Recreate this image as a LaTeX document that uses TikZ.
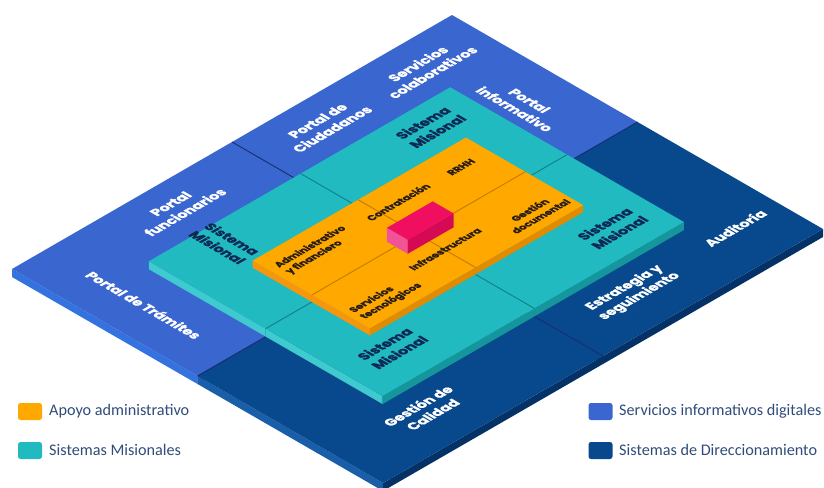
\documentclass[tikz,border=0pt]{standalone}
\usepackage{fontspec}
\newfontfamily\labelfont{Poppins}[BoldFeatures={FakeBold=1}]
\newfontfamily\legendfont{Carlito}

\definecolor{infoblue}{RGB}{58,102,208}
\definecolor{infobluel}{RGB}{52,114,224}
\definecolor{infobluer}{RGB}{38,76,166}
\definecolor{dirblue}{RGB}{8,72,140}
\definecolor{dirbluel}{RGB}{24,94,168}
\definecolor{dirbluer}{RGB}{5,50,102}
\definecolor{misteal}{RGB}{32,186,192}
\definecolor{misteall}{RGB}{62,202,206}
\definecolor{mistealr}{RGB}{20,150,156}
\definecolor{apoyo}{RGB}{255,168,0}
\definecolor{apoyol}{RGB}{246,150,12}
\definecolor{apoyor}{RGB}{226,138,0}
\definecolor{core}{RGB}{240,14,96}
\definecolor{corel}{RGB}{242,82,152}
\definecolor{corer}{RGB}{214,10,84}
\definecolor{legendink}{RGB}{48,76,122}

% slab{s1}{s2}{t1}{t2}{z bottom}{z top}{colour}
\newcommand{\slab}[7]{%
  \fill[#7l] (#1,#4,#5) -- (#2,#4,#5) -- (#2,#4,#6) -- (#1,#4,#6) -- cycle;
  \fill[#7r] (#2,#3,#5) -- (#2,#4,#5) -- (#2,#4,#6) -- (#2,#3,#6) -- cycle;
  \fill[#7] (#1,#3,#6) -- (#2,#3,#6) -- (#2,#4,#6) -- (#1,#4,#6) -- cycle;
}

\tikzset{
  onv/.style={cm={0.866,0.5,-0.866,0.5,(0,0)}},
  onu/.style={cm={0.866,-0.5,0.866,0.5,(0,0)}},
  plate/.style={font=\labelfont\bfseries\fontsize{13.5}{17}\selectfont, text=white, align=center, inner sep=0pt, transform shape},
  mision/.style={plate, text={rgb,255:red,14;green,40;blue,84}},
  tile/.style={plate, text={rgb,255:red,40;green,30;blue,20}, font=\labelfont\bfseries\fontsize{10}{12.5}\selectfont},
  seam/.style={line width=0.9pt},
  swatch/.style={rounded corners=2.5pt, minimum width=24pt, minimum height=17pt, inner sep=0pt},
  legtext/.style={font=\legendfont\fontsize{16.2}{18}\selectfont, text=legendink, anchor=west, inner sep=0pt}
}

\begin{document}
\begin{tikzpicture}[x=1pt,y=-1pt]
\useasboundingbox (0,0) rectangle (824,487);

\begin{scope}[shift={(452,15)}, x={(371pt,-214pt)}, y={(-440pt,-254pt)}, z={(0pt,1pt)}]
%Base layer
\slab{0}{0.5}{0}{0.5}{-8}{0}{infoblue}
\slab{0.5}{1}{0}{0.5}{-8}{0}{dirblue}
\slab{0}{0.5}{0.5}{1}{-8}{0}{infoblue}
\slab{0.5}{1}{0.5}{1}{-8}{0}{dirblue}
\draw[seam, color={rgb,255:red,22;green,46;blue,110}] (0,0.5,0) -- (1,0.5,0) (0.5,0,0) -- (0.5,1,0);
%Teal layer
\slab{0.185}{0.5}{0.16}{0.5}{0}{8}{misteal}
\slab{0.5}{0.815}{0.16}{0.5}{0}{8}{misteal}
\slab{0.185}{0.5}{0.5}{0.845}{0}{8}{misteal}
\slab{0.5}{0.815}{0.5}{0.845}{0}{8}{misteal}
\draw[seam, color={rgb,255:red,16;green,128;blue,134}] (0.185,0.5,8) -- (0.815,0.5,8) (0.5,0.16,8) -- (0.5,0.845,8);
%Orange layer
\slab{0.34}{0.5}{0.255}{0.5}{8}{15}{apoyo}
\slab{0.5}{0.656}{0.255}{0.5}{8}{15}{apoyo}
\slab{0.34}{0.5}{0.5}{0.74}{8}{15}{apoyo}
\slab{0.5}{0.656}{0.5}{0.74}{8}{15}{apoyo}
\draw[seam, color={rgb,255:red,196;green,124;blue,0}] (0.34,0.5,15) -- (0.656,0.5,15) (0.5,0.255,15) -- (0.5,0.74,15);
%Core box
\slab{0.477}{0.533}{0.446}{0.55}{15}{29}{core}
\end{scope}

% Text Node
\node[plate, onv] (funcionarios) at (178,208) {Portal\\funcionarios};
\node[plate, onu] (tramites) at (144,305) {Portal de Trámites};
\node[plate, onv] (ciudadanos) at (325,125) {Portal de\\Ciudadanos};
\node[plate, onv] (colaborativos) at (425,68) {Servicios\\colaborativos};
\node[plate, onu] (informativo) at (522,105) {Portal\\informativo};
\node[plate, onv] (auditoria) at (735,228) {Auditoría};
\node[plate, onv] (estrategia) at (632,292) {Estrategia y\\seguimiento};
\node[plate, onv] (calidad) at (425,410) {Gestión de\\Calidad};

\node[mision, onu] (misionL) at (225,243) {Sistema\\Misional};
\node[mision, onv] (misionT) at (430,127) {Sistema\\Misional};
\node[mision, onv] (misionR) at (612,228) {Sistema\\Misional};
\node[mision, onv] (misionB) at (392,348) {Sistema\\Misional};

\node[tile, onv, align=left] (admin) at (316,250) {Administrativo\\y financiero};
\node[tile, onv] (contratacion) at (398,202) {Contratación};
\node[tile, onv] (rrhh) at (461,167) {RRHH};
\node[tile, onv] (documental) at (535,213) {Gestión\\documental};
\node[tile, onv] (infra) at (445,249) {Infraestructura};
\node[tile, onv, align=left] (tecno) at (386,298) {Servicios\\tecnológicos};

% Legend
\node[swatch, fill=apoyo] (sw1) at (30,411.5) {};
\node[legtext] (lg1) at (49,411) {Apoyo administrativo};
\node[swatch, fill=misteal] (sw2) at (30,450.5) {};
\node[legtext] (lg2) at (49,450) {Sistemas Misionales};
\node[swatch, fill=infoblue] (sw3) at (600.5,411.5) {};
\node[legtext] (lg3) at (619,411) {Servicios informativos digitales};
\node[swatch, fill=dirblue] (sw4) at (600.5,450.5) {};
\node[legtext] (lg4) at (619,450) {Sistemas de Direccionamiento};

\end{tikzpicture}
\end{document}
